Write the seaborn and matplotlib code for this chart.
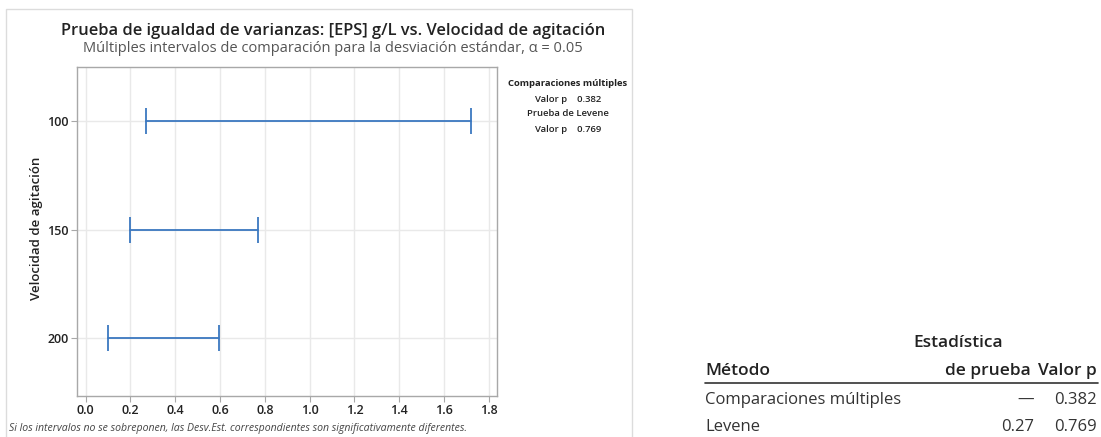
import numpy as np
import pandas as pd
import matplotlib
matplotlib.use("Agg")
import matplotlib.pyplot as plt
from matplotlib.patches import Rectangle
from matplotlib.lines import Line2D
import seaborn as sns

# Comparison intervals for the standard deviation of [EPS] g/L by agitation speed
speeds = ["100", "150", "200"]
lower = [0.27, 0.20, 0.10]
upper = [1.72, 0.77, 0.595]

x_ticks = [0.0, 0.2, 0.4, 0.6, 0.8, 1.0, 1.2, 1.4, 1.6, 1.8]

p_multiple = "0.382"
p_levene = "0.769"
levene_stat = "0.27"

sns.set_theme(style="white")
plt.rcParams["font.family"] = ["Open Sans", "DejaVu Sans"]

BLUE = "#3b78c0"
GRID = "#e9e9e9"
SPINE = "#a8a8a8"
TEXT = "#222222"

W, H = 1101, 437
pos = np.arange(len(speeds))
long_df = pd.DataFrame({
    "speed": np.repeat(speeds, 2),
    "pos": np.repeat(pos, 2),
    "value": np.ravel(np.column_stack([lower, upper])),
})

fig = plt.figure(figsize=(W / 100, H / 100), dpi=100)

# light panel border around the graph
fig.patches.append(Rectangle((6 / W, -0.05), 626 / W, 1.05 - 9 / H,
                             transform=fig.transFigure, fill=False,
                             edgecolor="#dcdcdc", linewidth=1.0, zorder=0))

ax = fig.add_axes([77 / W, 1 - 396 / H, 420 / W, 329 / H])

sns.lineplot(data=long_df, x="value", y="pos", units="speed", estimator=None,
             sort=False, orient="y", color=BLUE, linewidth=1.3, ax=ax, legend=False)
sns.scatterplot(data=long_df, x="value", y="pos", marker="|", s=330,
                color=BLUE, linewidth=1.3, ax=ax, legend=False, zorder=3)

ax.set_xlim(-0.038, 1.836)
ax.set_ylim(2.53, -0.5)
ax.set_xticks(x_ticks)
ax.set_xticklabels([f"{t:.1f}" for t in x_ticks])
ax.set_yticks(pos)
ax.set_yticklabels(speeds)
ax.grid(True, color=GRID, linewidth=1.0)
ax.set_axisbelow(True)
for s in ax.spines.values():
    s.set_color(SPINE)
    s.set_linewidth(1.0)
ax.tick_params(axis="both", which="major", length=4, width=0.8, color=SPINE,
               labelsize=9, labelcolor=TEXT, direction="out")
ax.tick_params(axis="x", bottom=True, pad=2)
ax.tick_params(axis="y", left=True, pad=2)
for lab in ax.get_xticklabels() + ax.get_yticklabels():
    lab.set_fontweight("semibold")
ax.set_xlabel("")
ax.set_ylabel("")
fig.text(37 / W, 1 - 228 / H, "Velocidad de agitación", rotation=90,
         ha="center", va="center", fontsize=9.5, color=TEXT, fontweight="semibold")

# titles
fig.text(333 / W, 1 - 31 / H,
         "Prueba de igualdad de varianzas: [EPS] g/L vs. Velocidad de agitación",
         ha="center", va="center", fontsize=11.9, fontweight="semibold", color=TEXT)
fig.text(333 / W, 1 - 48 / H,
         "Múltiples intervalos de comparación para la desviación estándar, α = 0.05",
         ha="center", va="center", fontsize=10.5, color="#555555")

# p-value summary at the side of the graph
cx = 568 / W
rows = [(84, "Comparaciones múltiples", "bold"),
        (99, f"Valor p    {p_multiple}", "semibold"),
        (114, "Prueba de Levene", "semibold"),
        (130, f"Valor p    {p_levene}", "semibold")]
for y, txt, wt in rows:
    fig.text(cx, 1 - y / H, txt, ha="center", va="center",
             fontsize=6.8, fontweight=wt, color=TEXT)

# footnote
fig.text(9 / W, 1 - 428 / H,
         "Si los intervalos no se sobreponen, las Desv.Est. correspondientes son significativamente diferentes.",
         ha="left", va="center", fontsize=7.6, style="italic", color="#444444")

# test summary table
tfs = 12
hfs = 12.5
L, C2, C3 = 705, 1034, 1097
fig.text(958 / W, 1 - 343 / H, "Estadística", ha="center", va="center",
         fontsize=hfs, fontweight="semibold", color=TEXT)
fig.text(L / W, 1 - 371 / H, "Método", ha="left", va="center",
         fontsize=hfs, fontweight="semibold", color=TEXT)
fig.text((C2 - 3) / W, 1 - 371 / H, "de prueba", ha="right", va="center",
         fontsize=hfs, fontweight="semibold", color=TEXT)
fig.text(C3 / W, 1 - 371 / H, "Valor p", ha="right", va="center",
         fontsize=hfs, fontweight="semibold", color=TEXT)
fig.add_artist(Line2D([L / W, 1098 / W], [1 - 383 / H, 1 - 383 / H],
                      transform=fig.transFigure, color="#333333", linewidth=1.2))
fig.text(L / W, 1 - 400 / H, "Comparaciones múltiples", ha="left", va="center",
         fontsize=tfs, color="#333333")
fig.text(C2 / W, 1 - 400 / H, "—", ha="right", va="center",
         fontsize=tfs, color="#333333")
fig.text(C3 / W, 1 - 400 / H, p_multiple, ha="right", va="center",
         fontsize=tfs, color="#333333")
fig.text(L / W, 1 - 427 / H, "Levene", ha="left", va="center",
         fontsize=tfs, color="#333333")
fig.text(C2 / W, 1 - 427 / H, levene_stat, ha="right", va="center",
         fontsize=tfs, color="#333333")
fig.text(C3 / W, 1 - 427 / H, p_levene, ha="right", va="center",
         fontsize=tfs, color="#333333")

fig.savefig("out.png", dpi=100, facecolor="white")
